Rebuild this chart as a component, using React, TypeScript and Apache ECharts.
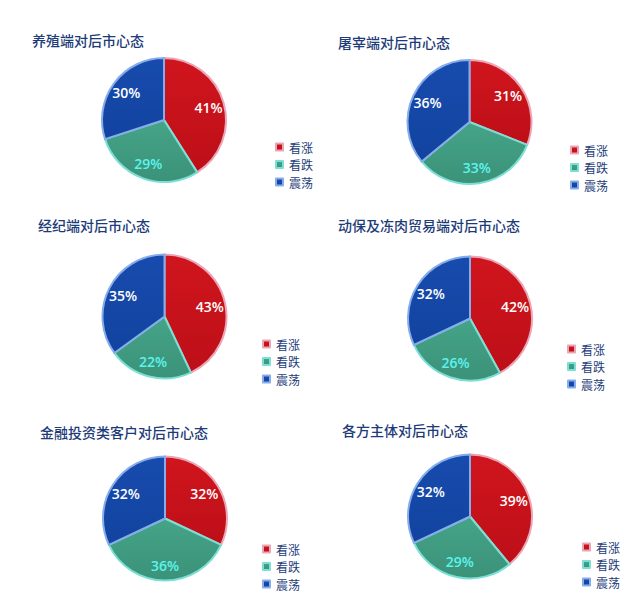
import React, { useEffect, useRef } from "react";
import * as echarts from "echarts";

const categories = ["看涨", "看跌", "震荡"];
const titles = [
  "养殖端对后市心态",
  "屠宰端对后市心态",
  "经纪端对后市心态",
  "动保及冻肉贸易端对后市心态",
  "金融投资类客户对后市心态",
  "各方主体对后市心态",
];
const breeding = [41, 29, 30];
const slaughter = [31, 33, 36];
const broker = [43, 22, 35];
const tradeEnd = [42, 26, 32];
const finance = [32, 36, 32];
const allParties = [39, 29, 32];
const panelValues = [breeding, slaughter, broker, tradeEnd, finance, allParties];

const layout = [
  { title: [32, 33], center: [164, 120], legend: [275, 141] },
  { title: [338, 35], center: [469.5, 122], legend: [570, 144] },
  { title: [38, 218], center: [164.5, 316.5], legend: [262, 338] },
  { title: [338, 218], center: [470, 318.5], legend: [567, 343] },
  { title: [40, 425], center: [165, 518.5], legend: [262, 543] },
  { title: [342, 423], center: [470, 516.5], legend: [582, 541] },
];

const fills = [
  ["#d0151d", "#bd0f18"],
  ["#45a487", "#3b9279"],
  ["#174bad", "#1243a0"],
];
const borders = ["#eaa6b6", "#7ae0d6", "#86aceb"];
const labelColors = ["#ffffff", "#5cf3ee", "#ffffff"];
const navy = "#1d3b78";

export default function App() {
  const ref = useRef<HTMLDivElement>(null);
  useEffect(() => {
    document.body.style.margin = "0";
    if (!ref.current) return;
    const chart = echarts.init(ref.current, null, { renderer: "svg" });
    const title: any[] = [];
    const legend: any[] = [];
    const series: any[] = [];
    panelValues.forEach((vals, i) => {
      const L = layout[i];
      title.push({
        text: titles[i],
        left: L.title[0],
        top: L.title[1],
        padding: 0,
        textStyle: {
          fontFamily: "Noto Sans CJK SC",
          fontSize: 14,
          fontWeight: 500,
          color: navy,
        },
      });
      legend.push({
        data: categories,
        orient: "vertical",
        left: L.legend[0],
        top: L.legend[1],
        padding: 0,
        icon: "rect",
        itemWidth: 7,
        itemHeight: 7,
        itemGap: 5.5,
        selectedMode: false,
        textStyle: {
          fontFamily: "Noto Sans CJK SC",
          fontSize: 12,
          lineHeight: 12,
          color: navy,
          padding: [0, 0, 0, 1],
        },
      });
      series.push({
        type: "pie",
        center: L.center,
        radius: [0, 62],
        startAngle: 90,
        clockwise: true,
        silent: true,
        label: { show: false },
        labelLine: { show: false },
        data: vals.map((v, k) => ({
          name: categories[k],
          value: v,
          itemStyle: {
            color: new echarts.graphic.LinearGradient(0, 0, 0, 1, [
              { offset: 0, color: fills[k][0] },
              { offset: 1, color: fills[k][1] },
            ]),
            borderColor: borders[k],
            borderWidth: 2,
          },
        })),
      });
      series.push({
        type: "pie",
        center: L.center,
        radius: [25, 62],
        startAngle: 90,
        clockwise: true,
        silent: true,
        itemStyle: { color: "rgba(0,0,0,0)", borderWidth: 0 },
        labelLine: { show: false },
        label: {
          show: true,
          position: "inner",
          formatter: "{c}%",
          fontFamily: "Open Sans",
          fontSize: 14,
          fontWeight: 600,
        },
        data: vals.map((v, k) => ({
          name: categories[k],
          value: v,
          label: { color: labelColors[k] },
        })),
      });
    });
    chart.setOption({
      animation: false,
      backgroundColor: "#ffffff",
      title,
      legend,
      series,
    });
    return () => chart.dispose();
  }, []);
  return <div ref={ref} style={{ width: 643, height: 609 }} />;
}
